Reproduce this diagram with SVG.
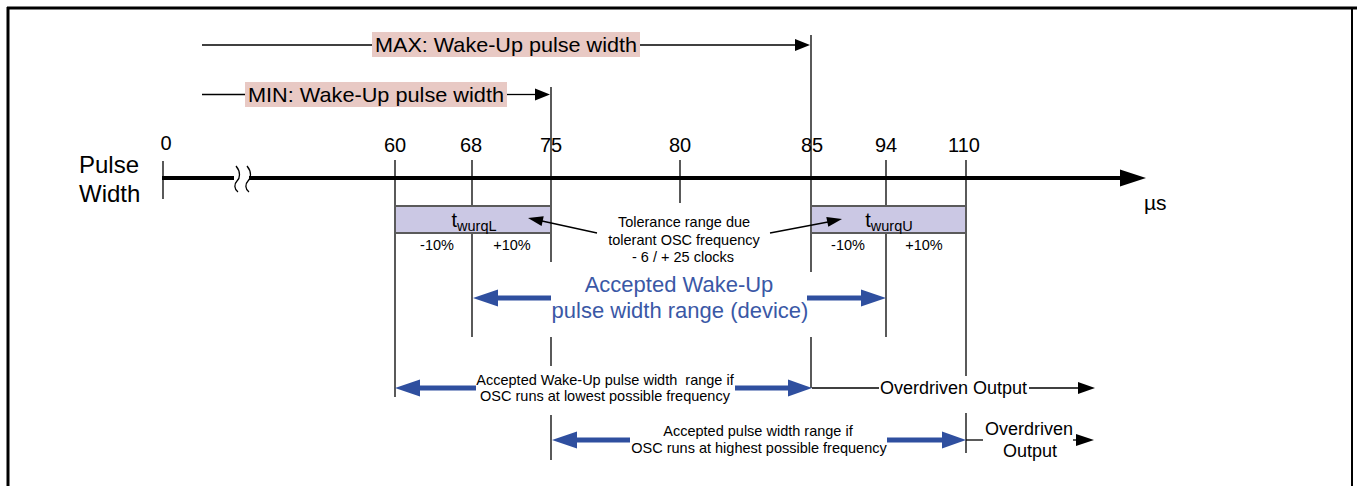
<svg xmlns="http://www.w3.org/2000/svg" width="1357" height="486" viewBox="0 0 1357 486">
<defs>
<style>
text{font-family:"Liberation Sans",Arial,sans-serif;fill:#000}
.ln{stroke:#000;stroke-width:1.3;fill:none}
.ax{stroke:#000;stroke-width:4;fill:none}
.bl{stroke:#2f4f9f;stroke-width:5;fill:none}
.bh{fill:#2f4f9f}
.ah{fill:#000}
.tk{font-size:20px;text-anchor:middle}
.sm{font-size:14.5px;text-anchor:middle}
.bt{font-size:22px;fill:#3a58a6;text-anchor:middle}
.lb{font-size:21px;text-anchor:middle}
.od{font-size:18px}
.pink{fill:#e8c9c4}
.box{fill:#cbc8e4;stroke:#5a5a5a;stroke-width:2}
.frame{stroke:#000;fill:none}
</style>
</defs>
<rect width="1357" height="486" fill="#fff"/>
<g id="frame">
<line class="frame" x1="7" y1="8" x2="1357" y2="8" stroke-width="3"/>
<line class="frame" x1="8" y1="7" x2="8" y2="486" stroke-width="3"/>
<line class="frame" x1="1352" y1="7" x2="1352" y2="486" stroke-width="2"/>
</g>
<g id="axis">
<line class="ax" x1="162" y1="178" x2="234" y2="178"/>
<line class="ax" x1="249" y1="178" x2="1122" y2="178"/>
<polygon class="ah" points="1146,178 1120,169.5 1120,186.5"/>
<line class="ln" x1="163" y1="161" x2="163" y2="199" stroke-width="2"/>
<path class="ln" d="M236,166 C241,172 240,178 237,181 C234,184 234,189 238,192"/>
<path class="ln" d="M247,166 C252,172 251,178 248,181 C245,184 245,189 249,192"/>
<text x="79" y="173" font-size="24">Pulse</text>
<text x="79" y="202" font-size="24">Width</text>
<text x="1144" y="210" font-size="21">µs</text>
</g>
<g id="ticks">
<text class="tk" x="166" y="150">0</text>
<text class="tk" x="395" y="152">60</text>
<text class="tk" x="471" y="152">68</text>
<text class="tk" x="551" y="152">75</text>
<text class="tk" x="680" y="152">80</text>
<text class="tk" x="812" y="152">85</text>
<text class="tk" x="886" y="152">94</text>
<text class="tk" x="964" y="152">110</text>
<line class="ln" x1="395" y1="160" x2="395" y2="397"/>
<line class="ln" x1="472" y1="160" x2="472" y2="337"/>
<line class="ln" x1="551" y1="87" x2="551" y2="262"/>
<line class="ln" x1="551" y1="337" x2="551" y2="366"/>
<line class="ln" x1="551" y1="415" x2="551" y2="460"/>
<line class="ln" x1="680" y1="160" x2="680" y2="203"/>
<line class="ln" x1="811" y1="35" x2="811" y2="272"/>
<line class="ln" x1="811" y1="337" x2="811" y2="388"/>
<line class="ln" x1="886" y1="160" x2="886" y2="337"/>
<line class="ln" x1="966" y1="160" x2="966" y2="376"/>
<line class="ln" x1="966" y1="413" x2="966" y2="453"/>
</g>
<g id="max-label">
<rect class="pink" x="372" y="32" width="268" height="25"/>
<text class="lb" x="506" y="52" textLength="262" lengthAdjust="spacingAndGlyphs">MAX: Wake-Up pulse width</text>
</g>
<g id="min-label">
<rect class="pink" x="245" y="82" width="262" height="25"/>
<text class="lb" x="376" y="102" textLength="256" lengthAdjust="spacingAndGlyphs">MIN: Wake-Up pulse width</text>
</g>
<g id="twurqL">
<rect class="box" x="395" y="206" width="156" height="27"/>
<text x="474" y="227" font-size="20" text-anchor="middle">t<tspan font-size="14.5" dy="4">wurqL</tspan></text>
<text class="sm" x="437" y="250">-10%</text>
<text class="sm" x="512" y="250">+10%</text>
</g>
<g id="twurqU">
<rect class="box" x="811" y="206" width="155" height="27"/>
<text x="889" y="227" font-size="20" text-anchor="middle">t<tspan font-size="14.5" dy="4">wurqU</tspan></text>
<text class="sm" x="848" y="250">-10%</text>
<text class="sm" x="924" y="250">+10%</text>
</g>
<g id="tolerance">
<text class="sm" x="684" y="227">Tolerance range due</text>
<text class="sm" x="684" y="245">tolerant OSC frequency</text>
<text class="sm" x="683" y="262">- 6 / + 25 clocks</text>
</g>
<g id="device-range">
<text class="bt" x="679" y="292">Accepted Wake-Up</text>
<text class="bt" x="680" y="318">pulse width range (device)</text>
</g>
<g id="lowest-range">
<text class="sm" x="605" y="385" xml:space="preserve" style="white-space:pre">Accepted Wake-Up pulse width  range if</text>
<text class="sm" x="605" y="401">OSC runs at lowest possible frequency</text>
<text class="od" x="880" y="394">Overdriven Output</text>
</g>
<g id="highest-range">
<text class="sm" x="758" y="436">Accepted pulse width range if</text>
<text class="sm" x="759" y="453">OSC runs at highest possible frequency</text>
<text class="od" x="1029" y="435" text-anchor="middle">Overdriven</text>
<text class="od" x="1030" y="457" text-anchor="middle">Output</text>
</g>
<g id="connectors">
<line class="ln" x1="202" y1="45" x2="372" y2="45"/>
<line class="ln" x1="640" y1="45" x2="797" y2="45"/>
<polygon class="ah" points="810,45 795,39 795,51"/>
<line class="ln" x1="202" y1="94.5" x2="245" y2="94.5"/>
<line class="ln" x1="507" y1="94.5" x2="537" y2="94.5"/>
<polygon class="ah" points="550,94.5 535,88.5 535,100.5"/>
<line class="ln" x1="597" y1="233" x2="542" y2="221"/>
<polygon class="ah" points="528,218 541.6,226.1 543.7,216.3"/>
<line class="ln" x1="770" y1="233" x2="828" y2="222"/>
<polygon class="ah" points="842,219 828.3,226.8 826.3,217"/>
<line class="bl" x1="497" y1="298" x2="551" y2="298"/>
<polygon class="bh" points="473,298 498,289.5 498,306.5"/>
<line class="bl" x1="807" y1="298" x2="862" y2="298"/>
<polygon class="bh" points="886,298 861,289.5 861,306.5"/>
<line class="bl" x1="419" y1="388" x2="476" y2="388"/>
<polygon class="bh" points="395,388 420,379.5 420,396.5"/>
<line class="bl" x1="735" y1="388" x2="789" y2="388"/>
<polygon class="bh" points="812,388 788,379.5 788,396.5"/>
<line class="ln" x1="812" y1="388" x2="879" y2="388"/>
<line class="ln" x1="1029" y1="388" x2="1080" y2="388"/>
<polygon class="ah" points="1095,388 1078,382 1078,394"/>
<line class="bl" x1="576" y1="440" x2="630" y2="440"/>
<polygon class="bh" points="552,440 577,431.5 577,448.5"/>
<line class="bl" x1="887" y1="440" x2="943" y2="440"/>
<polygon class="bh" points="966,440 942,431.5 942,448.5"/>
<line class="ln" x1="966" y1="440" x2="983" y2="440"/>
<line class="ln" x1="1073" y1="440" x2="1078" y2="440"/>
<polygon class="ah" points="1094,440 1076,434 1076,446"/>
</g>
</svg>
